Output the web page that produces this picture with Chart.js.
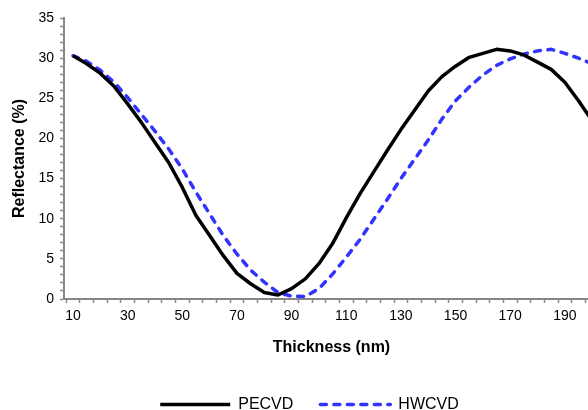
<!DOCTYPE html>
<html><head><meta charset="utf-8">
<script src="https://cdn.jsdelivr.net/npm/chart.js@4"></script>
<style>
html,body{margin:0;padding:0;background:#fff;overflow:hidden;width:588px;height:410px}
#wrap{position:relative;width:588px;height:410px;overflow:hidden}
canvas{display:block}
</style></head><body>
<div id="wrap"><canvas id="c" width="617" height="410" style="width:617px;height:410px"></canvas></div>
<script>
const thickness = [10,15,20,25,30,35,40,45,50,55,60,65,70,75,80,85,90,95,100,105,110,115,120,125,130,135,140,145,150,155,160,165,170,175,180,185,190,195,200];
const pecvd = [30.3,29.3,28.1,26.5,24.3,22.0,19.5,17.0,13.9,10.4,7.9,5.4,3.2,1.9,0.8,0.5,1.3,2.5,4.4,6.9,10.1,13.1,15.8,18.5,21.1,23.5,25.9,27.7,29.0,30.1,30.6,31.1,30.9,30.4,29.5,28.6,27.0,24.7,22.2];
const hwcvd = [30.3,29.6,28.5,27.0,25.1,23.0,20.9,18.7,16.2,13.3,10.6,7.9,5.6,3.6,2.1,0.8,0.35,0.3,1.3,3.1,5.2,7.4,9.9,12.4,15.0,17.4,19.8,22.4,24.7,26.4,27.9,29.1,29.9,30.5,30.9,31.1,30.6,30.0,29.3];
const xTickLabels = [10,30,50,70,90,110,130,150,170,190];
const yTickLabels = [0,5,10,15,20,25,30,35];

const AXIS = '#868686';
const FONT = "'Liberation Sans', Arial, sans-serif";
const xTicks = [...thickness.map(t => t - 2.5), ...xTickLabels].sort((a, b) => a - b);

const legendShift = {
  id: 'legendShift',
  afterLayout(chart) {
    if (chart.legend) { chart.legend.left += 10; chart.legend.right += 10; }
  }
};

new Chart(document.getElementById('c'), {
  type: 'line',
  data: {
    datasets: [
      { label: 'PECVD', data: thickness.map((t, i) => ({x: t, y: pecvd[i]})),
        borderColor: '#000000', backgroundColor: '#000000', borderWidth: 3.5,
        pointRadius: 0, tension: 0, borderJoinStyle: 'round', borderCapStyle: 'butt', fill: false },
      { label: 'HWCVD', data: thickness.map((t, i) => ({x: t, y: hwcvd[i]})),
        borderColor: '#3333ff', backgroundColor: '#3333ff', borderWidth: 3.5, borderDash: [6, 7.5],
        pointRadius: 0, tension: 0, borderJoinStyle: 'round', borderCapStyle: 'round', fill: false }
    ]
  },
  plugins: [legendShift],
  options: {
    responsive: false, animation: false, devicePixelRatio: 1,
    layout: { padding: { top: 18, left: 0, right: 18, bottom: -12.5 } },
    plugins: {
      tooltip: { enabled: false },
      legend: {
        position: 'bottom',
        labels: {
          usePointStyle: true, pointStyle: 'line', pointStyleWidth: 70, padding: 27,
          color: '#000', font: { family: FONT, size: 16 },
          generateLabels: chart => Chart.defaults.plugins.legend.labels.generateLabels(chart).map(l => {
            const ds = chart.data.datasets[l.datasetIndex];
            return Object.assign({}, l, { lineWidth: ds.borderWidth, lineDash: ds.borderDash || [],
              lineCap: ds.borderCapStyle, strokeStyle: ds.borderColor, fillStyle: ds.borderColor, pointStyle: 'line' });
          })
        }
      }
    },
    scales: {
      x: {
        type: 'linear', min: 6.7, max: 202.5,
        afterBuildTicks: ax => { ax.ticks = xTicks.map(v => ({ value: v })); },
        afterFit: ax => { ax.height = 70.5; },
        grid: { drawOnChartArea: false, tickLength: 4, tickWidth: 1.5,
          tickColor: ctx => (ctx.tick && (ctx.tick.value + 2.5) % 5 === 0) ? AXIS : 'rgba(0,0,0,0)' },
        border: { color: AXIS, width: 2 },
        ticks: { autoSkip: false, maxRotation: 0, padding: 5, color: '#000', font: { family: FONT, size: 14 },
          callback: v => xTickLabels.includes(v) ? String(v) : '' },
        title: { display: true, text: 'Thickness (nm)', color: '#000', font: { family: FONT, size: 16, weight: 'bold' },
          padding: { top: 0, bottom: 12 } }
      },
      y: {
        min: 0, max: 35,
        afterFit: ax => { ax.width = 64; },
        grid: { drawOnChartArea: false, tickLength: 4, tickWidth: 1.5, tickColor: AXIS },
        border: { color: AXIS, width: 2 },
        ticks: { stepSize: 1, autoSkip: false, padding: 6, color: '#000', font: { family: FONT, size: 14 },
          callback: v => yTickLabels.includes(v) ? String(v) : '' },
        title: { display: true, text: 'Reflectance (%)', color: '#000', font: { family: FONT, size: 16, weight: 'bold' },
          padding: { top: 10, bottom: 0 } }
      }
    }
  }
});
</script>
</body></html>
